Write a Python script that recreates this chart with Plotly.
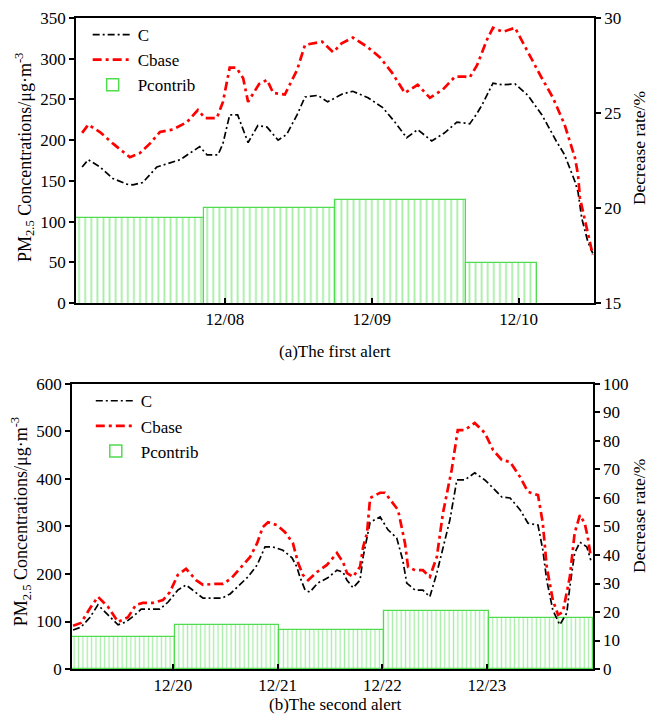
import plotly.graph_objects as go

# ---------------- data: first alert (hours from 12/07 00:00) ----------------
a_c_hours = [0.7, 1.7, 3.6, 5.7, 8.0, 9.0, 10.6, 12.9, 16.7, 19.9, 21.1, 22.9, 23.7, 24.8, 26.1,
             27.8, 29.4, 30.9, 32.7, 34.1, 35.8, 37.1, 39.2, 40.8, 43.3, 44.9, 47.4, 49.8, 51.8,
             53.7, 55.5, 57.8, 59.9, 61.9, 63.2, 64.0, 65.2, 66.0, 67.8, 69.3, 71.4, 73.5, 75.8,
             77.1, 78.2, 79.5, 81.2, 81.7, 82.3, 83.3, 84.1]
a_c = [167, 176, 167, 153, 146, 145, 148, 167, 176, 192, 182, 182, 196, 231, 231,
       197, 218, 216, 200, 207, 231, 253, 255, 247, 257, 260, 252, 240, 222,
       203, 213, 199, 209, 222, 221, 220, 233, 243, 270, 268, 269, 255, 231,
       213, 198, 182, 149, 136, 104, 75, 61]

a_cb_hours = [0.7, 1.7, 3.6, 5.7, 8.5, 10.1, 11.8, 13.4, 15.5, 17.8, 19.6, 20.8, 22.7, 23.7,
              24.8, 25.9, 27.0, 27.8, 29.6, 30.9, 31.9, 33.8, 35.8, 37.1, 39.9, 41.7, 43.1,
              44.9, 47.2, 49.3, 51.3, 53.4, 55.5, 57.5, 59.6, 61.6, 63.2, 64.0, 65.2, 66.8,
              67.8, 69.4, 71.4, 73.5, 75.5, 77.6, 79.5, 81.2, 81.7, 82.0, 83.3, 84.1]
a_cbase = [209, 219, 210, 196, 179, 184, 196, 210, 213, 222, 237, 227, 227, 247,
           289, 289, 276, 247, 269, 274, 258, 256, 286, 317, 321, 308, 319,
           326, 315, 302, 283, 258, 268, 252, 262, 278, 278, 277, 292, 323,
           338, 333, 338, 308, 280, 252, 219, 178, 157, 129, 87, 59]

a_p_start = [-0.3, 20.6, 42.0, 63.4]
a_p_end = [20.6, 42.0, 63.4, 75.0]
a_pcontrib = [19.5, 20.0, 20.4, 17.1]

a_tickvals = [24, 48, 72]
a_ticktext = ["12/08", "12/09", "12/10"]

# ---------------- data: second alert (hours from 12/19 00:00) ----------------
b_c_hours = [1.1, 2.9, 5.0, 6.8, 9.1, 11.4, 13.2, 15.3, 16.7, 19.0, 21.0, 22.9, 25.1, 27.0,
             29.3, 30.9, 33.2, 35.2, 37.1, 38.9, 41.2, 43.3, 45.1, 46.9, 49.2, 51.3, 52.4,
             53.1, 54.3, 55.4, 57.2, 59.5, 61.6, 63.0, 63.9, 65.3, 66.9, 67.6, 69.2, 71.5,
             73.3, 75.3, 76.7, 77.6, 79.5, 81.3, 82.9, 84.5, 85.9, 87.5, 89.1, 90.9, 93.2,
             95.5, 97.4, 99.4, 101.3, 103.6, 105.4, 107.7, 108.8, 109.7, 111.1, 112.7,
             114.3, 115.0, 116.1, 117.3, 118.9, 119.8]
b_c = [82, 88, 109, 135, 114, 93, 99, 114, 126, 126, 126, 141, 166, 177,
       160, 149, 149, 149, 158, 173, 194, 219, 257, 257, 250, 234, 215,
       194, 166, 162, 181, 192, 208, 204, 187, 171, 187, 236, 309, 320,
       293, 276, 229, 181, 166, 166, 152, 202, 257, 314, 398, 398, 413,
       398, 381, 362, 360, 335, 307, 303, 251, 187, 124, 93,
       118, 173, 244, 267, 257, 229]

b_cb_hours = [1.1, 2.9, 5.2, 6.8, 9.1, 11.4, 13.7, 15.5, 17.1, 19.4, 21.7, 23.3, 25.1, 27.0,
              29.3, 30.9, 33.2, 35.5, 37.5, 39.4, 41.7, 43.3, 44.6, 45.8, 47.8, 49.7, 51.5,
              52.7, 53.8, 55.0, 57.0, 59.3, 61.6, 63.0, 63.9, 65.3, 66.9, 67.6, 68.5, 69.2,
              71.5, 72.6, 74.2, 75.6, 77.2, 77.9, 79.5, 81.3, 82.9, 84.5, 85.9, 87.0, 87.9,
              89.3, 90.9, 93.2, 95.5, 97.4, 99.4, 101.3, 103.6, 105.4, 107.7, 108.8, 109.7,
              111.1, 112.3, 113.4, 115.0, 116.1, 117.3, 118.4, 119.1, 119.8]
b_cbase = [91, 97, 131, 152, 131, 99, 109, 135, 139, 139, 145, 162, 198, 211,
           187, 177, 179, 179, 192, 213, 236, 265, 299, 309, 303, 288, 265,
           223, 198, 187, 204, 219, 244, 225, 202, 194, 215, 257, 286, 360,
           371, 371, 352, 335, 265, 215, 208, 208, 194, 236, 328, 377, 419,
           503, 503, 518, 497, 461, 440, 436, 404, 373, 366, 307, 215,
           145, 114, 120, 194, 286, 324, 307, 278, 236]

b_p_start = [0.85, 24.5, 48.3, 72.4, 96.4]
b_p_end = [24.5, 48.3, 72.4, 96.4, 120.3]
b_pcontrib = [11.2, 15.5, 13.7, 20.2, 17.9]

b_tickvals = [24, 48, 72, 96]
b_ticktext = ["12/20", "12/21", "12/22", "12/23"]

left_title = "PM<sub>2.5</sub> Concentrations/μg·m<sup>-3</sup>"
right_title = "Decrease rate/%"

# ---------------- styling ----------------
FONT = "Liberation Serif"
GREEN = "#4fdc4f"
C_DASH = "7px,3px,2px,3px"
CB_DASH = "9px,4px,3px,4px"

fig = go.Figure()

def add_panel(xa, ybar, yline, legend, hours_c, c, hours_cb, cb, p_start, p_end, p, psize):
    widths = [e - s for s, e in zip(p_start, p_end)]
    fig.add_trace(go.Bar(
        x=p_start, y=p, width=widths, offset=0, xaxis=xa, yaxis=ybar,
        marker=dict(color="white", line=dict(color=GREEN, width=1.2),
                    pattern=dict(shape="|", fgcolor=GREEN, bgcolor="white",
                                 size=psize, solidity=0.3)),
        showlegend=False, name="Pcontrib", hoverinfo="skip"))
    fig.add_trace(go.Scatter(
        x=hours_c, y=c, xaxis=xa, yaxis=yline, mode="lines", name="C",
        line=dict(color="black", width=1.7, dash=C_DASH), legend=legend))
    fig.add_trace(go.Scatter(
        x=hours_cb, y=cb, xaxis=xa, yaxis=yline, mode="lines", name="Cbase",
        line=dict(color="red", width=2.7, dash=CB_DASH), legend=legend))
    # legend entry for bars (plain outlined box)
    fig.add_trace(go.Bar(
        x=[None], y=[None], xaxis=xa, yaxis=ybar, name="Pcontrib",
        marker=dict(color="white", line=dict(color=GREEN, width=1.5)), legend=legend))

add_panel("x", "y", "y2", "legend", a_c_hours, a_c, a_cb_hours, a_cbase,
          a_p_start, a_p_end, a_pcontrib, 6.1)
add_panel("x2", "y3", "y4", "legend2", b_c_hours, b_c, b_cb_hours, b_cbase,
          b_p_start, b_p_end, b_pcontrib, 4.36)

tickfont = dict(family=FONT, size=17, color="black")
titlefont = dict(family=FONT, size=18, color="black")

common_x = dict(showline=True, linecolor="black", linewidth=1.5, mirror=True,
                ticks="inside", ticklen=5, tickcolor="black", tickwidth=1.5,
                showgrid=False, zeroline=False, tickfont=tickfont, automargin=False)
common_y = dict(showline=True, linecolor="black", linewidth=1.5, ticks="outside",
                ticklen=5, tickcolor="black", tickwidth=1.5, showgrid=False,
                zeroline=False, tickfont=tickfont, automargin=False)

TOP_DOM = [0.5622, 1.0]
BOT_DOM = [0.0, 0.4378]

def paper_text(text, x, y, angle=0, size=17):
    return dict(text=text, x=x, y=y, xref="paper", yref="paper", showarrow=False,
                textangle=angle, font=dict(family=FONT, size=size, color="black"),
                xanchor="center", yanchor="middle")

fig.update_layout(
    width=649, height=721,
    margin=dict(l=72, r=55, t=18, b=52),
    paper_bgcolor="white", plot_bgcolor="white",
    barmode="overlay", bargap=0,
    font=dict(family=FONT, size=17, color="black"),
    xaxis=dict(common_x, domain=[0.0077, 1.0], anchor="y", range=[-0.3, 84.3],
               tickvals=a_tickvals, ticktext=a_ticktext),
    yaxis=dict(common_y, domain=TOP_DOM, anchor="x", side="right", range=[15, 30],
               tickvals=[15, 20, 25, 30]),
    yaxis2=dict(common_y, domain=TOP_DOM, anchor="x", overlaying="y", side="left",
                range=[0, 350], tickvals=[0, 50, 100, 150, 200, 250, 300, 350]),
    xaxis2=dict(common_x, domain=[0.0, 0.998], anchor="y3", range=[0.85, 120.3],
                tickvals=b_tickvals, ticktext=b_ticktext),
    yaxis3=dict(common_y, domain=BOT_DOM, anchor="x2", side="right", range=[0, 100],
                tickvals=list(range(0, 101, 10))),
    yaxis4=dict(common_y, domain=BOT_DOM, anchor="x2", overlaying="y3", side="left",
                range=[0, 600], tickvals=[0, 100, 200, 300, 400, 500, 600]),
    legend=dict(x=0.03, y=1.0015, xanchor="left", yanchor="top", bgcolor="rgba(0,0,0,0)",
                font=dict(family=FONT, size=17), itemwidth=40, tracegroupgap=0),
    legend2=dict(x=0.036, y=0.439, xanchor="left", yanchor="top", bgcolor="rgba(0,0,0,0)",
                 font=dict(family=FONT, size=17), itemwidth=40, tracegroupgap=0),
    annotations=[
        paper_text("(a)The first alert", 0.504, 0.487),
        paper_text("(b)The second alert", 0.504, -0.055),
        paper_text(left_title, -0.090, 0.785, -90, 18),
        paper_text(left_title, -0.097, 0.226, -90, 18),
        paper_text(right_title, 1.086, 0.800, -90, 17.5),
        paper_text(right_title, 1.086, 0.235, -90, 17.5),
    ],
)

fig.write_html("out.html")
